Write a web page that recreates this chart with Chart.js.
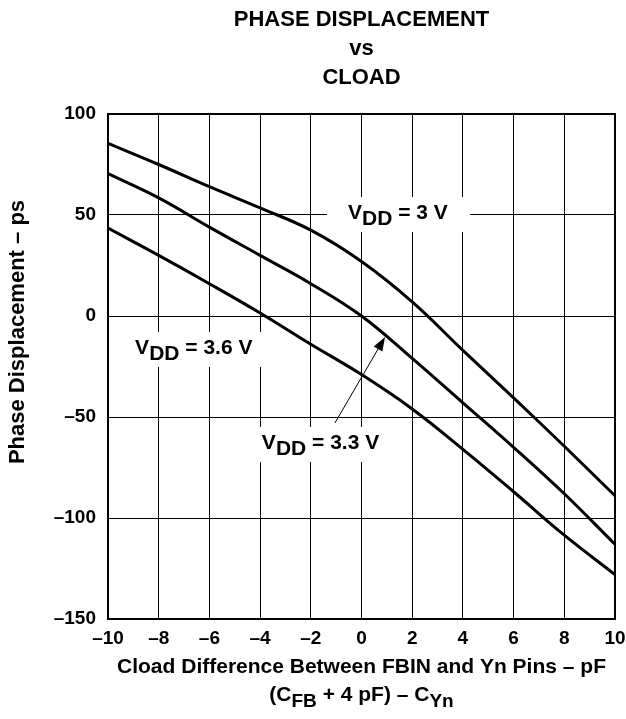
<!DOCTYPE html>
<html>
<head>
<meta charset="utf-8">
<script src="https://cdn.jsdelivr.net/npm/chart.js@4.4.0/dist/chart.umd.min.js"></script>
<style>
  html, body { margin: 0; padding: 0; background: #fff; }
  #wrap { width: 626px; height: 719px; }
</style>
</head>
<body>
<div id="wrap"><canvas id="chart" width="626" height="719"></canvas></div>
<script>
// values
const cload = [-10, -8, -6, -4, -2, 0, 2, 4, 6, 8, 10];
const vdd30 = [85.5, 75, 64, 53.5, 42.5, 27, 7, -17, -40.5, -64.5, -89];
const vdd33 = [70.5, 58.5, 44, 30, 16, 0, -21, -43, -65, -88, -113];
const vdd36 = [43.5, 30, 16, 1.5, -14, -29, -46, -66, -87, -108.5, -128];

const xTicks = [-10, -8, -6, -4, -2, 0, 2, 4, 6, 8, 10];
const yTicks = [-150, -100, -50, 0, 50, 100];

const titleLines = ['PHASE DISPLACEMENT', 'vs', 'CLOAD'];
const yTitle = 'Phase Displacement \u2013 ps';
const xTitle = 'Cload Difference Between FBIN and Yn Pins \u2013 pF';
const xTitle2 = [['(C', 0], ['FB', 1], [' + 4 pF) \u2013 C', 0], ['Yn', 1]];

// curve labels: text left / baseline, in data units
const curveLabels = [
    { parts: [['V', 0], ['DD', 1], [' = 3 V', 0]], x: -0.53, y: 48, padL: 21, padR: 22 },
    { parts: [['V', 0], ['DD', 1], [' = 3.6 V', 0]], x: -8.93, y: -18.8, padL: 10, padR: 17 },
    { parts: [['V', 0], ['DD', 1], [' = 3.3 V', 0]], x: -3.93, y: -65.8, padL: 7, padR: 8 },
];
const arrowFrom = { x: -1.05, y: -53 };
const arrowTo = { x: 0.93, y: -10.4 };

const FONT = '"Liberation Sans", Arial, Helvetica, sans-serif';
const dash = v => String(v).replace('-', '\u2013');

function partsWidth(ctx, parts, size, subSize) {
    let w = 0;
    parts.forEach(([t, sub]) => {
        ctx.font = `bold ${sub ? subSize : size}px ${FONT}`;
        w += ctx.measureText(t).width;
    });
    return w;
}

function drawParts(ctx, parts, x, y, size, subSize, subShift) {
    ctx.textAlign = 'left';
    ctx.textBaseline = 'alphabetic';
    parts.forEach(([t, sub]) => {
        ctx.font = `bold ${sub ? subSize : size}px ${FONT}`;
        ctx.fillText(t, x, sub ? y + subShift : y);
        x += ctx.measureText(t).width;
    });
}

const decor = {
    id: 'decor',
    beforeDatasetsDraw(chart) {
        const { ctx, scales: { x, y } } = chart;
        ctx.save();
        // white boxes behind the curve labels (hide grid lines)
        curveLabels.forEach(l => {
            const px = x.getPixelForValue(l.x);
            const py = y.getPixelForValue(l.y);
            const w = partsWidth(ctx, l.parts, 21, 21);
            ctx.fillStyle = '#fff';
            ctx.fillRect(px - l.padL, py - 22, w + l.padL + l.padR, 35);
        });
        ctx.restore();
    },
    afterDraw(chart) {
        const { ctx, chartArea: a, scales: { x, y } } = chart;
        ctx.save();
        ctx.fillStyle = '#000';
        ctx.strokeStyle = '#000';

        // frame
        ctx.lineWidth = 2;
        ctx.strokeRect(a.left, a.top, a.right - a.left, a.bottom - a.top);

        // labels
        curveLabels.forEach(l => {
            drawParts(ctx, l.parts, x.getPixelForValue(l.x), y.getPixelForValue(l.y), 21, 21, 6);
        });

        // arrow to the 3.3 V curve
        const x0 = x.getPixelForValue(arrowFrom.x), y0 = y.getPixelForValue(arrowFrom.y);
        const x1 = x.getPixelForValue(arrowTo.x), y1 = y.getPixelForValue(arrowTo.y);
        const ang = Math.atan2(y1 - y0, x1 - x0);
        ctx.lineWidth = 1;
        ctx.beginPath();
        ctx.moveTo(x0, y0);
        ctx.lineTo(x1 - 10 * Math.cos(ang), y1 - 10 * Math.sin(ang));
        ctx.stroke();
        ctx.beginPath();
        ctx.moveTo(x1, y1);
        ctx.lineTo(x1 - 14 * Math.cos(ang) + 5 * Math.sin(ang), y1 - 14 * Math.sin(ang) - 5 * Math.cos(ang));
        ctx.lineTo(x1 - 14 * Math.cos(ang) - 5 * Math.sin(ang), y1 - 14 * Math.sin(ang) + 5 * Math.cos(ang));
        ctx.closePath();
        ctx.fill();

        // title
        const cx = (a.left + a.right) / 2;
        ctx.textAlign = 'center';
        ctx.textBaseline = 'middle';
        ctx.font = `bold 22px ${FONT}`;
        titleLines.forEach((t, i) => ctx.fillText(t, cx, 20 + i * 29));

        // x axis title
        ctx.font = `bold 21px ${FONT}`;
        ctx.fillText(xTitle, cx, 667);
        const w2 = partsWidth(ctx, xTitle2, 21, 19);
        drawParts(ctx, xTitle2, cx - w2 / 2, 701, 21, 19, 6);

        // y axis title
        ctx.translate(18, 332);
        ctx.rotate(-Math.PI / 2);
        ctx.textAlign = 'center';
        ctx.textBaseline = 'middle';
        ctx.font = `bold 22px ${FONT}`;
        ctx.fillText(yTitle, 0, 0);
        ctx.restore();
    }
};

const line = (data, label) => ({
    label,
    data: cload.map((c, i) => ({ x: c, y: data[i] })),
    borderColor: '#000',
    borderWidth: 3,
    pointRadius: 0,
    fill: false,
    tension: 0.4,
});

new Chart(document.getElementById('chart'), {
    type: 'line',
    data: {
        datasets: [
            line(vdd30, 'VDD = 3 V'),
            line(vdd33, 'VDD = 3.3 V'),
            line(vdd36, 'VDD = 3.6 V'),
        ]
    },
    options: {
        responsive: false,
        animation: false,
        devicePixelRatio: 1,
        layout: { padding: { top: 114, right: 11, left: 0, bottom: 0 } },
        plugins: { legend: { display: false }, tooltip: { enabled: false } },
        scales: {
            x: {
                type: 'linear',
                min: -10, max: 10,
                afterFit: s => { s.height = 100; s.paddingLeft = 0; s.paddingRight = 0; },
                afterBuildTicks: s => { s.ticks = xTicks.map(v => ({ value: v })); },
                grid: { color: '#000', lineWidth: 1, drawTicks: false },
                border: { display: false },
                ticks: {
                    padding: 8,
                    color: '#000',
                    font: { family: FONT, size: 19, weight: 'bold' },
                    maxRotation: 0,
                    callback: v => dash(v),
                },
            },
            y: {
                min: -150, max: 100,
                afterFit: s => { s.width = 108; s.paddingTop = 0; s.paddingBottom = 0; },
                afterBuildTicks: s => { s.ticks = yTicks.map(v => ({ value: v })); },
                grid: { color: '#000', lineWidth: 1, drawTicks: false },
                border: { display: false },
                ticks: {
                    padding: 12,
                    color: '#000',
                    font: { family: FONT, size: 19, weight: 'bold' },
                    callback: v => dash(v),
                },
            },
        },
    },
    plugins: [decor],
});
</script>
</body>
</html>
